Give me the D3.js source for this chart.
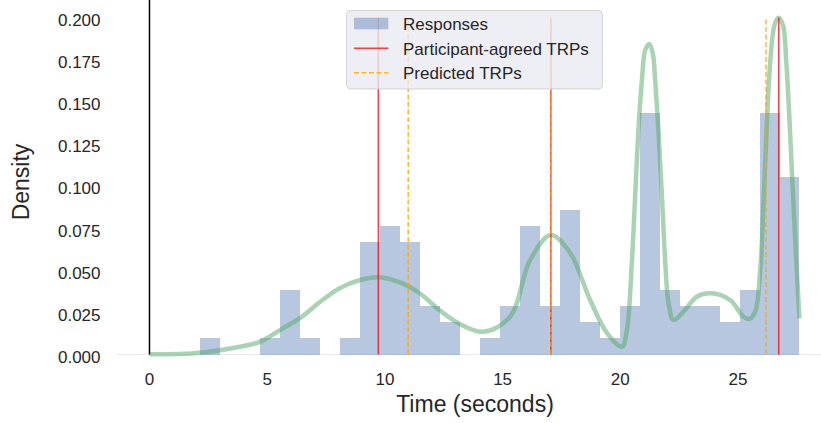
<!DOCTYPE html>
<html>
<head>
<meta charset="utf-8">
<script src="https://cdn.jsdelivr.net/npm/d3@7"></script>
<style>
  body { margin: 0; background: #fff; }
  svg { display: block; font-family: "Liberation Sans", Arial, sans-serif; }
</style>
</head>
<body>
<script>
// histogram of response times (density per bin)
const binStart = 2.154;
const binWidth = 0.8486;
const binDensity = [0.0096, 0, 0, 0.0096, 0.0382, 0.0096, 0, 0.0096, 0.0669, 0.0764,
    0.0669, 0.0287, 0.0191, 0, 0.0096, 0.0287, 0.0764, 0.0287, 0.0860, 0.0191,
    0.0096, 0.0287, 0.1433, 0.0382, 0.0287, 0.0287, 0.0191, 0.0382, 0.1433, 0.1051];

// kde curve
const kdeTime = [0, 2.15, 3.85, 4.70, 5.55, 6.40, 7.25, 8.10, 8.95, 9.71, 10.56, 11.46, 12.31, 13.11,
    14.18, 15.32, 16.17, 17.05, 17.87, 18.72, 19.43, 20.07, 20.28, 20.49, 20.63, 20.77, 20.92,
    21.06, 21.23, 21.38, 21.48, 21.62, 21.77, 21.91, 22.05, 22.26, 22.68, 23.25, 23.82, 24.67,
    25.23, 25.49, 25.73, 25.94, 26.08, 26.23, 26.37, 26.55, 26.72, 26.91, 27.05, 27.19, 27.33,
    27.47, 27.61];
const kdeDensity = [0.0001, 0.0011, 0.0046, 0.0076, 0.0145, 0.0217, 0.0313, 0.0395, 0.0442, 0.0458,
    0.0432, 0.0365, 0.0264, 0.0187, 0.0135, 0.0224, 0.0561, 0.0709, 0.0602, 0.0323, 0.0128,
    0.0046, 0.0145, 0.0543, 0.0937, 0.1332, 0.1629, 0.1807, 0.1843, 0.1788, 0.1629, 0.1332,
    0.0937, 0.0543, 0.0304, 0.0205, 0.0254, 0.0343, 0.0363, 0.0323, 0.0224, 0.0211, 0.0254,
    0.0491, 0.0887, 0.1382, 0.1738, 0.1955, 0.1999, 0.1955, 0.1738, 0.1382, 0.0966, 0.0571,
    0.0215];

const agreedTRPs = [9.72, 17.05, 26.73];
const predictedTRPs = [10.99, 17.05, 26.19];
const lineTop = 0.2;

const xTicks = [0, 5, 10, 15, 20, 25];
const yTicks = [0, 0.025, 0.05, 0.075, 0.1, 0.125, 0.15, 0.175, 0.2];

const legendItems = ["Responses", "Participant-agreed TRPs", "Predicted TRPs"];

const width = 821, height = 423;
const textColor = "#262626";
const histColor = "#4c72b0";
const kdeColor = "#55a868";

const x = d3.scaleLinear().domain([-1.38, 28.98]).range([117, 831.7]);
const y = d3.scaleLinear().domain([0, 0.21]).range([354.5, 0.65]);

const svg = d3.select("body").append("svg")
    .attr("width", width)
    .attr("height", height);

// faint bottom edge of the axes
svg.append("line")
    .attr("x1", x.range()[0]).attr("x2", width)
    .attr("y1", y(0)).attr("y2", y(0))
    .attr("stroke", "#ebebeb")
    .attr("stroke-width", 1);

// bars
svg.append("g")
    .attr("shape-rendering", "crispEdges")
    .selectAll("rect")
    .data(binDensity)
    .join("rect")
    .attr("x", (d, i) => x(binStart + i * binWidth))
    .attr("width", (d, i) => x(binStart + (i + 1) * binWidth) - x(binStart + i * binWidth))
    .attr("y", d => y(d))
    .attr("height", d => y(0) - y(d))
    .attr("fill", histColor)
    .attr("fill-opacity", 0.4);

// kde
const kdeLine = d3.line()
    .x(d => x(d[0]))
    .y(d => y(d[1]))
    .curve(d3.curveCatmullRom.alpha(0.5));

svg.append("path")
    .datum(d3.zip(kdeTime, kdeDensity))
    .attr("d", kdeLine)
    .attr("fill", "none")
    .attr("stroke", kdeColor)
    .attr("stroke-opacity", 0.5)
    .attr("stroke-width", 4.5)
    .attr("stroke-linejoin", "round");

// zero line
svg.append("line")
    .attr("x1", x(0)).attr("x2", x(0))
    .attr("y1", 0).attr("y2", y(0))
    .attr("stroke", "#000")
    .attr("stroke-width", 1.5);

// TRP lines
svg.append("g")
    .selectAll("line")
    .data(agreedTRPs)
    .join("line")
    .attr("x1", d => x(d)).attr("x2", d => x(d))
    .attr("y1", y(0)).attr("y2", y(lineTop))
    .attr("stroke", "red")
    .attr("stroke-opacity", 0.75)
    .attr("stroke-width", 1.5);

svg.append("g")
    .selectAll("line")
    .data(predictedTRPs)
    .join("line")
    .attr("x1", d => x(d)).attr("x2", d => x(d))
    .attr("y1", y(0)).attr("y2", y(lineTop))
    .attr("stroke", "orange")
    .attr("stroke-opacity", 0.8)
    .attr("stroke-width", 1.5)
    .attr("stroke-dasharray", "5,2.5");

// tick labels
svg.append("g")
    .selectAll("text")
    .data(xTicks)
    .join("text")
    .attr("x", d => x(d))
    .attr("y", 384.5)
    .attr("text-anchor", "middle")
    .attr("fill", textColor)
    .style("font-size", "17px")
    .text(d => d);

svg.append("g")
    .selectAll("text")
    .data(yTicks)
    .join("text")
    .attr("x", 100.5)
    .attr("y", d => y(d) + 2.5)
    .attr("dy", "0.35em")
    .attr("text-anchor", "end")
    .attr("fill", textColor)
    .style("font-size", "17px")
    .text(d => d3.format(".3f")(d));

// axis titles
svg.append("text")
    .attr("x", 475)
    .attr("y", 411.5)
    .attr("text-anchor", "middle")
    .attr("fill", textColor)
    .style("font-size", "23px")
    .text("Time (seconds)");

svg.append("text")
    .attr("transform", "translate(29.3,182) rotate(-90)")
    .attr("text-anchor", "middle")
    .attr("fill", textColor)
    .style("font-size", "23px")
    .text("Density");

// legend
const legend = svg.append("g");
legend.append("rect")
    .attr("x", 346.5).attr("y", 10.5)
    .attr("width", 256).attr("height", 78.5)
    .attr("rx", 4)
    .attr("fill", "#eaeaf2")
    .attr("fill-opacity", 0.8)
    .attr("stroke", "#cccccc")
    .attr("stroke-opacity", 0.8);

legend.append("rect")
    .attr("x", 354).attr("y", 17.7)
    .attr("width", 34.3).attr("height", 11.6)
    .attr("fill", histColor)
    .attr("fill-opacity", 0.4);

legend.append("line")
    .attr("x1", 354).attr("x2", 388.3)
    .attr("y1", 48.3).attr("y2", 48.3)
    .attr("stroke", "red")
    .attr("stroke-opacity", 0.75)
    .attr("stroke-width", 1.5);

legend.append("line")
    .attr("x1", 354).attr("x2", 388.3)
    .attr("y1", 72.7).attr("y2", 72.7)
    .attr("stroke", "orange")
    .attr("stroke-opacity", 0.8)
    .attr("stroke-width", 1.5)
    .attr("stroke-dasharray", "5,2.5");

legend.selectAll("text")
    .data(legendItems)
    .join("text")
    .attr("x", 403)
    .attr("y", (d, i) => 30.3 + i * 24.4)
    .attr("fill", textColor)
    .style("font-size", "17px")
    .text(d => d);
</script>
</body>
</html>
